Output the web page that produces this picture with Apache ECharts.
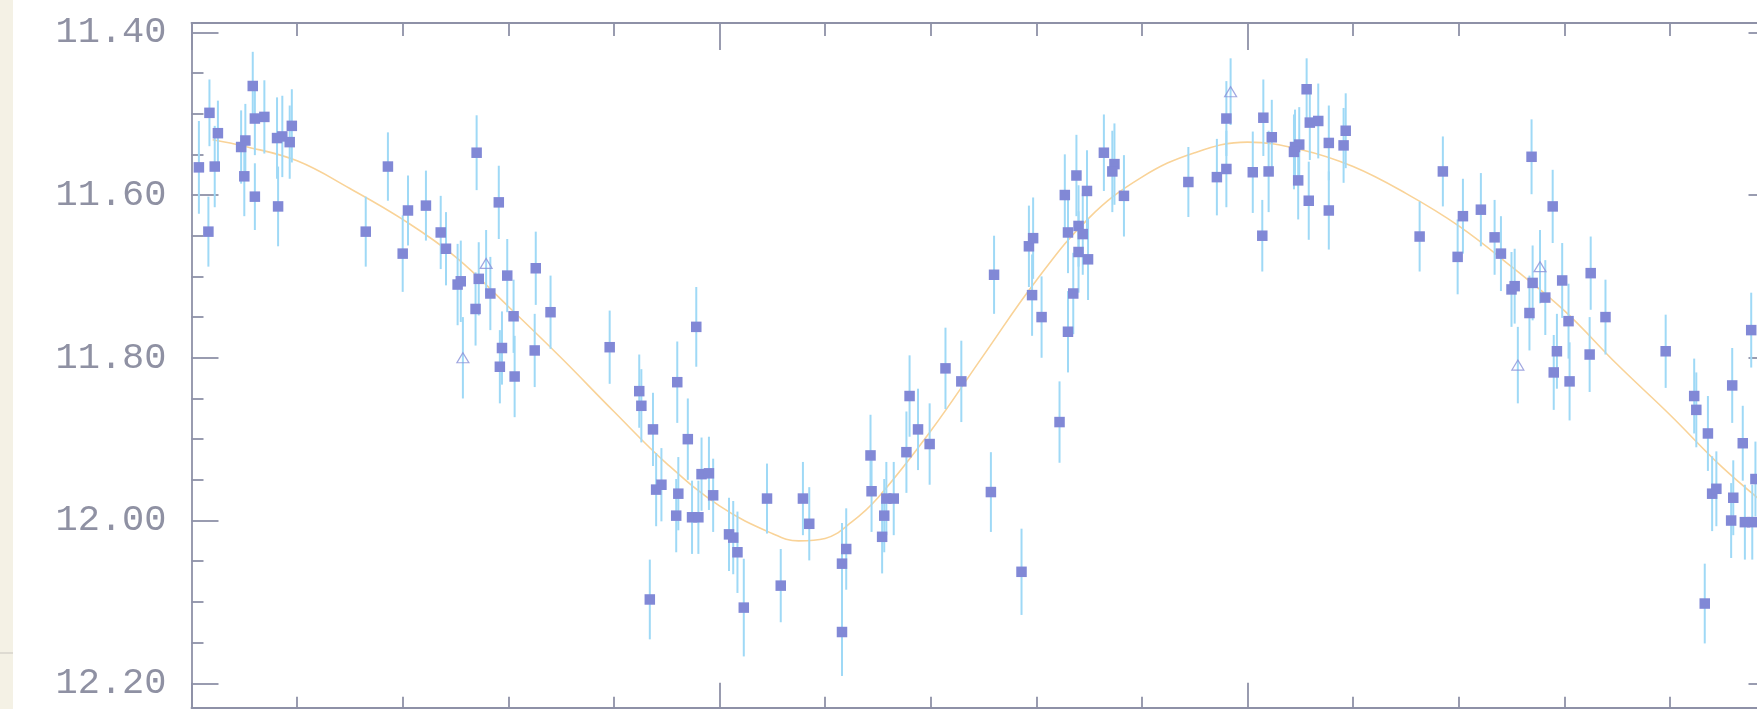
<!DOCTYPE html>
<html>
<head>
<meta charset="utf-8">
<script src="https://cdn.jsdelivr.net/npm/echarts@6/dist/echarts.min.js"></script>
<style>
html,body{margin:0;padding:0;background:#fff;}
#c{width:1757px;height:709px;}
</style>
</head>
<body>
<div id="c"></div>
<script>
// ---- data ----
const sqPhase = [0.007,0.017,0.016,0.022,0.025,0.047,0.051,0.050,0.058,0.060,0.069,0.060,0.081,0.086,0.093,0.095,0.082,0.165,0.186,0.200,0.205,0.222,0.236,0.241,
0.270,0.291,0.252,0.255,0.272,0.283,0.269,0.299,0.326,0.305,0.340,0.294,0.325,0.396,0.478,
0.292,0.306,0.424,0.426,0.437,0.460,0.470,0.440,0.445,0.461,0.459,0.474,0.480,0.483,0.490,0.494,0.434,0.509,0.513,0.517,0.523,0.545,0.558,0.579,0.585,0.616,0.620,0.616,0.643,0.644,0.654,0.656,0.658,
0.665,0.680,0.688,0.699,0.677,0.714,0.729,0.757,0.786,0.822,
0.760,0.793,0.797,0.796,0.805,0.830,0.827,0.838,0.848,0.830,0.840,0.844,0.840,0.849,0.835,0.864,0.874,0.872,0.883,0.944,0.971,0.980,0.980,1.005,1.015,1.023,1.020,1.014,1.045,1.049,1.044,1.048,1.056,1.059,1.067,1.058,1.077,1.077,
1.091,1.093,1.185,1.163,1.204,1.199,1.221,1.234,1.240,1.250,1.253,1.269,1.289,1.270,1.282,1.298,1.267,1.304,1.325,1.339,1.293,1.324,1.396,1.477,
1.290,1.305,1.423,1.425,1.436,1.459,1.469,1.481,1.440,1.444,1.460,1.458,1.471,1.478,1.433];
const sqMag = [11.566,11.499,11.645,11.565,11.524,11.541,11.533,11.577,11.466,11.506,11.504,11.602,11.530,11.528,11.535,11.515,11.614,11.645,11.565,11.672,11.619,11.613,11.646,11.666,
11.548,11.609,11.710,11.706,11.703,11.721,11.740,11.699,11.690,11.749,11.744,11.788,11.791,11.787,11.762,
11.811,11.823,11.841,11.859,11.888,11.830,11.900,11.962,11.956,11.967,11.994,11.996,11.996,11.943,11.942,11.969,12.097,12.017,12.021,12.039,12.107,11.973,12.080,11.973,12.004,12.053,12.035,12.137,11.920,11.964,12.020,11.994,11.973,
11.973,11.847,11.888,11.906,11.916,11.813,11.829,11.965,12.063,11.879,
11.698,11.663,11.653,11.723,11.750,11.768,11.600,11.576,11.595,11.646,11.638,11.648,11.670,11.679,11.721,11.548,11.562,11.571,11.601,11.584,11.578,11.568,11.506,11.572,11.505,11.529,11.571,11.650,11.541,11.538,11.547,11.582,11.470,11.511,11.509,11.607,11.536,11.619,
11.539,11.521,11.571,11.651,11.626,11.676,11.618,11.652,11.672,11.716,11.712,11.553,11.614,11.708,11.726,11.705,11.745,11.755,11.696,11.750,11.792,11.796,11.792,11.766,
11.818,11.829,11.847,11.864,11.893,11.834,11.905,11.949,11.967,11.961,11.972,12.000,12.002,12.002,12.102];
const sqErr = [0.057,0.041,0.043,0.050,0.040,0.045,0.045,0.049,0.042,0.045,0.045,0.041,0.050,0.050,0.045,0.045,0.049,0.043,0.042,0.047,0.043,0.043,0.045,0.045,
0.046,0.045,0.050,0.050,0.045,0.045,0.045,0.045,0.045,0.045,0.045,0.045,0.045,0.045,0.049,
0.045,0.050,0.045,0.045,0.045,0.050,0.050,0.045,0.045,0.045,0.045,0.045,0.045,0.045,0.045,0.045,0.049,0.045,0.045,0.050,0.060,0.043,0.045,0.045,0.045,0.050,0.050,0.054,0.050,0.050,0.045,0.045,0.045,
0.045,0.050,0.050,0.050,0.050,0.050,0.050,0.049,0.053,0.050,
0.048,0.050,0.050,0.050,0.050,0.050,0.050,0.050,0.050,0.050,0.050,0.050,0.050,0.050,0.050,0.047,0.050,0.050,0.050,0.043,0.047,0.047,0.046,0.050,0.047,0.046,0.050,0.044,0.046,0.046,0.046,0.048,0.038,0.046,0.046,0.048,0.046,0.048,
0.046,0.046,0.043,0.043,0.046,0.046,0.045,0.046,0.046,0.046,0.046,0.046,0.045,0.046,0.046,0.046,0.046,0.046,0.045,0.046,0.046,0.046,0.045,0.046,
0.046,0.048,0.046,0.046,0.046,0.046,0.046,0.046,0.046,0.046,0.046,0.046,0.046,0.046,0.049];

const triPhase = [0.279,0.257,0.984,1.277,1.256];
const triMag   = [11.684,11.800,11.473,11.688,11.809];
const triErr   = [0.041,0.050,0.041,0.045,0.047];

const curvePhase = [0.02,0.05,0.1,0.15,0.2,0.25,0.3,0.35,0.4,0.45,0.5,0.55,0.575,0.6,0.625,0.65,0.7,0.75,0.8,0.85,0.9,0.95,1.0,1.05,1.1,1.15,1.2,1.25,1.3,1.35,1.4,1.45,1.5];
const curveMag = [11.532,11.540,11.558,11.592,11.630,11.676,11.737,11.800,11.866,11.930,11.982,12.016,12.025,12.022,12.002,11.972,11.890,11.797,11.705,11.628,11.578,11.548,11.535,11.544,11.565,11.598,11.638,11.688,11.742,11.808,11.870,11.935,11.990];

const yMajorTicks = [11.40,11.60,11.80,12.00,12.20];
const yMinorTicks = [11.45,11.50,11.55,11.65,11.70,11.75,11.85,11.90,11.95,12.05,12.10,12.15];
const xMajorTicks = [0,0.5,1.0,1.5];
const xMinorTicks = [0.1,0.2,0.3,0.4,0.6,0.7,0.8,0.9,1.1,1.2,1.3,1.4];

// ---- chart ----
const AX = '#8e91a7';
const Y_MIN = 11.3886, Y_MAX = 12.2300;
const chart = echarts.init(document.getElementById('c'), null, {renderer:'canvas'});

function yAx(pos, ticks, len, showLine, showLabel){
  return {
    type:'value', position:pos, min:Y_MIN, max:Y_MAX, inverse:true, gridIndex:0,
    axisLine:{show:showLine, onZero:false, lineStyle:{color:AX, width:1.8}},
    axisTick:{show:true, inside:true, length:len, customValues:ticks, lineStyle:{color:AX, width:1.8}},
    axisLabel:{show:showLabel, customValues:ticks, margin:25, color:'#8f91a3',
      fontFamily:'Liberation Mono', fontSize:37, formatter:(v)=>v.toFixed(2)},
    splitLine:{show:false}
  };
}
function xAx(pos, ticks, len, showLine){
  return {
    type:'value', position:pos, min:0, max:1.5, gridIndex:0,
    axisLine:{show:showLine, onZero:false, lineStyle:{color:AX, width:1.8}},
    axisTick:{show:true, inside:true, length:len, customValues:ticks, lineStyle:{color:AX, width:1.8}},
    axisLabel:{show:false},
    splitLine:{show:false}
  };
}

const sqData = sqPhase.map((p,i)=>[p, sqMag[i], sqErr[i]]);
const triData = triPhase.map((p,i)=>[p, triMag[i], triErr[i]]);
const errData = sqData.concat(triData);
const curveData = curvePhase.map((p,i)=>[p, curveMag[i]]);

chart.setOption({
  animation:false,
  backgroundColor:'#ffffff',
  grid:{left:191.5, right:-18.5, top:23, bottom:1.3, containLabel:false, outerBoundsMode:'none'},
  xAxis:[
    xAx('bottom', xMajorTicks, 25, true),
    xAx('bottom', xMinorTicks, 11, false),
    xAx('top', xMajorTicks, 27, true),
    xAx('top', xMinorTicks, 13, false)
  ],
  yAxis:[
    yAx('left', yMajorTicks, 27, true, true),
    yAx('left', yMinorTicks, 12, false, false),
    yAx('right', yMajorTicks, 27, true, false),
    yAx('right', yMinorTicks, 12, false, false)
  ],
  graphic:[
    {type:'rect', left:0, top:0, shape:{width:13, height:709}, style:{fill:'#f4f1e5'}, z:-1},
    {type:'rect', left:0, top:652, shape:{width:13, height:2}, style:{fill:'#dedbd2'}, z:-1}
  ],
  series:[
    {
      type:'line', name:'fit', data:curveData, smooth:0.4, showSymbol:false, symbol:'none',
      lineStyle:{color:'#f9d398', width:1.6}, z:1, silent:true
    },
    {
      type:'custom', name:'err', data:errData, z:2, silent:true,
      encode:{x:0, y:1},
      renderItem:function(params, api){
        const x = api.value(0), y = api.value(1), e = api.value(2);
        const a = api.coord([x, y - e]), b = api.coord([x, y + e]);
        return {type:'line', shape:{x1:a[0], y1:a[1], x2:b[0], y2:b[1]},
          style:{stroke:'#9fd9f6', lineWidth:2}};
      }
    },
    {
      type:'scatter', name:'squares', data:sqData, symbol:'rect', symbolSize:10.5, z:3,
      itemStyle:{color:'#8188d6', opacity:1}
    },
    {
      type:'scatter', name:'triangles', data:triData, symbol:'triangle', symbolSize:[12,10], z:3,
      itemStyle:{color:'rgba(255,255,255,0)', borderColor:'#8a91d8', borderWidth:1.2}
    }
  ]
});
</script>
</body>
</html>
